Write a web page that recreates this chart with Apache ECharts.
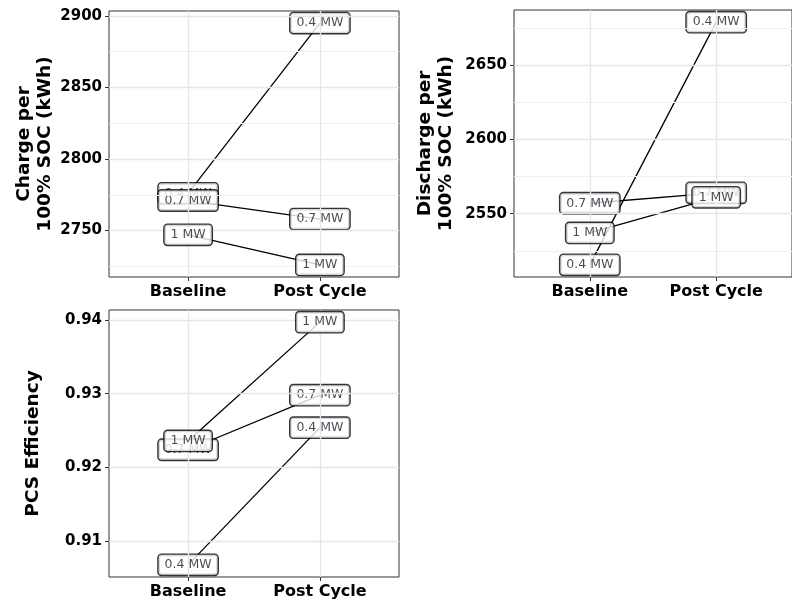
<!DOCTYPE html>
<html>
<head>
<meta charset="utf-8">
<script src="https://cdn.jsdelivr.net/npm/echarts@6/dist/echarts.min.js"></script>
<style>
  html, body { margin: 0; padding: 0; background: #fff; }
  #chart { width: 792px; height: 607px; }
</style>
</head>
<body>
<div id="chart"></div>
<script>
// Test phases on the x axis and the PCS power ratings (one line each)
const phases = ['Baseline', 'Post Cycle'];
const ratings = ['0.4 MW', '0.7 MW', '1 MW'];

// Charge energy per 100% SOC (kWh): [Baseline, Post Cycle]
const charge04 = [2776, 2895];
const charge07 = [2771, 2758];
const charge10 = [2747, 2726];

// Discharge energy per 100% SOC (kWh): [Baseline, Post Cycle]
const discharge04 = [2515.5, 2679];
const discharge07 = [2557, 2564];
const discharge10 = [2537, 2561];

// PCS efficiency: [Baseline, Post Cycle]
const pcs04 = [0.9068, 0.9254];
const pcs07 = [0.9224, 0.9298];
const pcs10 = [0.9236, 0.9397];

// Tick labels and grid breaks for each y axis
const chargeTicks = [2750, 2800, 2850, 2900];
const chargeMinor = [2725, 2775, 2825, 2875];
const dischargeTicks = [2550, 2600, 2650];
const dischargeMinor = [2525, 2575, 2625, 2675];
const pcsTicks = [0.91, 0.92, 0.93, 0.94];
const pcsMinor = [0.915, 0.925, 0.935];

const panels = [
  { title: 'Charge per\n100% SOC (kWh)', lines: [charge04, charge07, charge10],
    ticks: chargeTicks, minor: chargeMinor, digits: 0,
    rect: { left: 109, top: 11, width: 290, height: 266 }, nameGap: 52 },
  { title: 'Discharge per\n100% SOC (kWh)', lines: [discharge04, discharge07, discharge10],
    ticks: dischargeTicks, minor: dischargeMinor, digits: 0,
    rect: { left: 514, top: 10, width: 290, height: 267 }, nameGap: 57 },
  { title: 'PCS Efficiency', lines: [pcs04, pcs07, pcs10],
    ticks: pcsTicks, minor: pcsMinor, digits: 2,
    rect: { left: 109, top: 310, width: 290, height: 267 }, nameGap: 65 }
];

// Continuous scale padded by 5% of the data range on each side
function paddedRange(lines) {
  const all = [].concat(...lines);
  const lo = Math.min(...all), hi = Math.max(...all);
  const pad = (hi - lo) * 0.05;
  return [lo - pad, hi + pad];
}

const tickFont = { fontFamily: 'DejaVu Sans', fontWeight: 'bold', color: '#000' };
const grids = [], xAxes = [], yAxes = [], series = [];
const phaseX = phases.map((_, i) => i + 1);

panels.forEach((p, gi) => {
  const [ymin, ymax] = paddedRange(p.lines);
  grids.push(Object.assign({ show: true, borderColor: '#333', borderWidth: 1,
    backgroundColor: 'transparent' }, p.rect));

  xAxes.push({
    gridIndex: gi, type: 'value', min: 0.4, max: 2.6,
    axisLine: { show: false }, splitLine: { show: false },
    axisTick: { show: true, customValues: phaseX, length: 4, lineStyle: { color: '#333', width: 1 } },
    axisLabel: Object.assign({ customValues: phaseX, margin: 7, fontSize: 16,
      formatter: v => phases[Math.round(v) - 1] }, tickFont)
  });

  yAxes.push({
    gridIndex: gi, type: 'value', min: ymin, max: ymax,
    axisLine: { show: false }, splitLine: { show: false },
    axisTick: { show: true, customValues: p.ticks, length: 4, lineStyle: { color: '#333', width: 1 } },
    axisLabel: Object.assign({ customValues: p.ticks, margin: 7, fontSize: 15,
      formatter: v => v.toFixed(p.digits) }, tickFont),
    name: p.title, nameLocation: 'middle', nameGap: p.nameGap,
    nameTextStyle: { fontFamily: 'DejaVu Sans', fontWeight: 'bold', fontSize: 18.5,
      lineHeight: 21.5, color: '#000' }
  });

  // panel grid lines (major and minor)
  const gridLines = []
    .concat(p.minor.map(v => ({ yAxis: v, lineStyle: { color: '#f0f0f0', width: 1 } })))
    .concat(p.ticks.map(v => ({ yAxis: v, lineStyle: { color: '#e6e6e6', width: 1.3 } })))
    .concat(phaseX.map(v => ({ xAxis: v, lineStyle: { color: '#e6e6e6', width: 1.3 } })));
  series.push({
    type: 'scatter', xAxisIndex: gi, yAxisIndex: gi, z: 1, silent: true,
    symbolSize: 0, data: [[1, ymin]],
    markLine: { silent: true, symbol: ['none', 'none'], label: { show: false },
      lineStyle: { type: 'solid' }, data: gridLines, animation: false }
  });

  // connecting lines
  p.lines.forEach((vals, k) => {
    series.push({
      type: 'line', name: ratings[k], xAxisIndex: gi, yAxisIndex: gi, z: 2,
      showSymbol: false, symbol: 'none',
      lineStyle: { color: '#000', width: 1.3 },
      data: vals.map((v, i) => [phaseX[i], v])
    });
  });

  // boxed labels, drawn above every line
  p.lines.forEach((vals, k) => {
    series.push({
      type: 'scatter', xAxisIndex: gi, yAxisIndex: gi, z: 3 + k,
      symbolSize: 1, itemStyle: { color: 'transparent' },
      data: vals.map((v, i) => [phaseX[i], v]),
      label: {
        show: true, position: 'inside', formatter: ratings[k],
        fontFamily: 'DejaVu Sans', fontSize: 12.5, lineHeight: 14, color: '#1c1c2a',
        backgroundColor: '#fff', borderColor: '#000', borderWidth: 1.4, borderRadius: 3,
        padding: [4, 6, 2, 6]
      }
    });
  });
});

const chart = echarts.init(document.getElementById('chart'), null, { renderer: 'canvas' });
chart.setOption({
  backgroundColor: '#fff',
  animation: false,
  grid: grids, xAxis: xAxes, yAxis: yAxes, series: series
});
</script>
</body>
</html>
